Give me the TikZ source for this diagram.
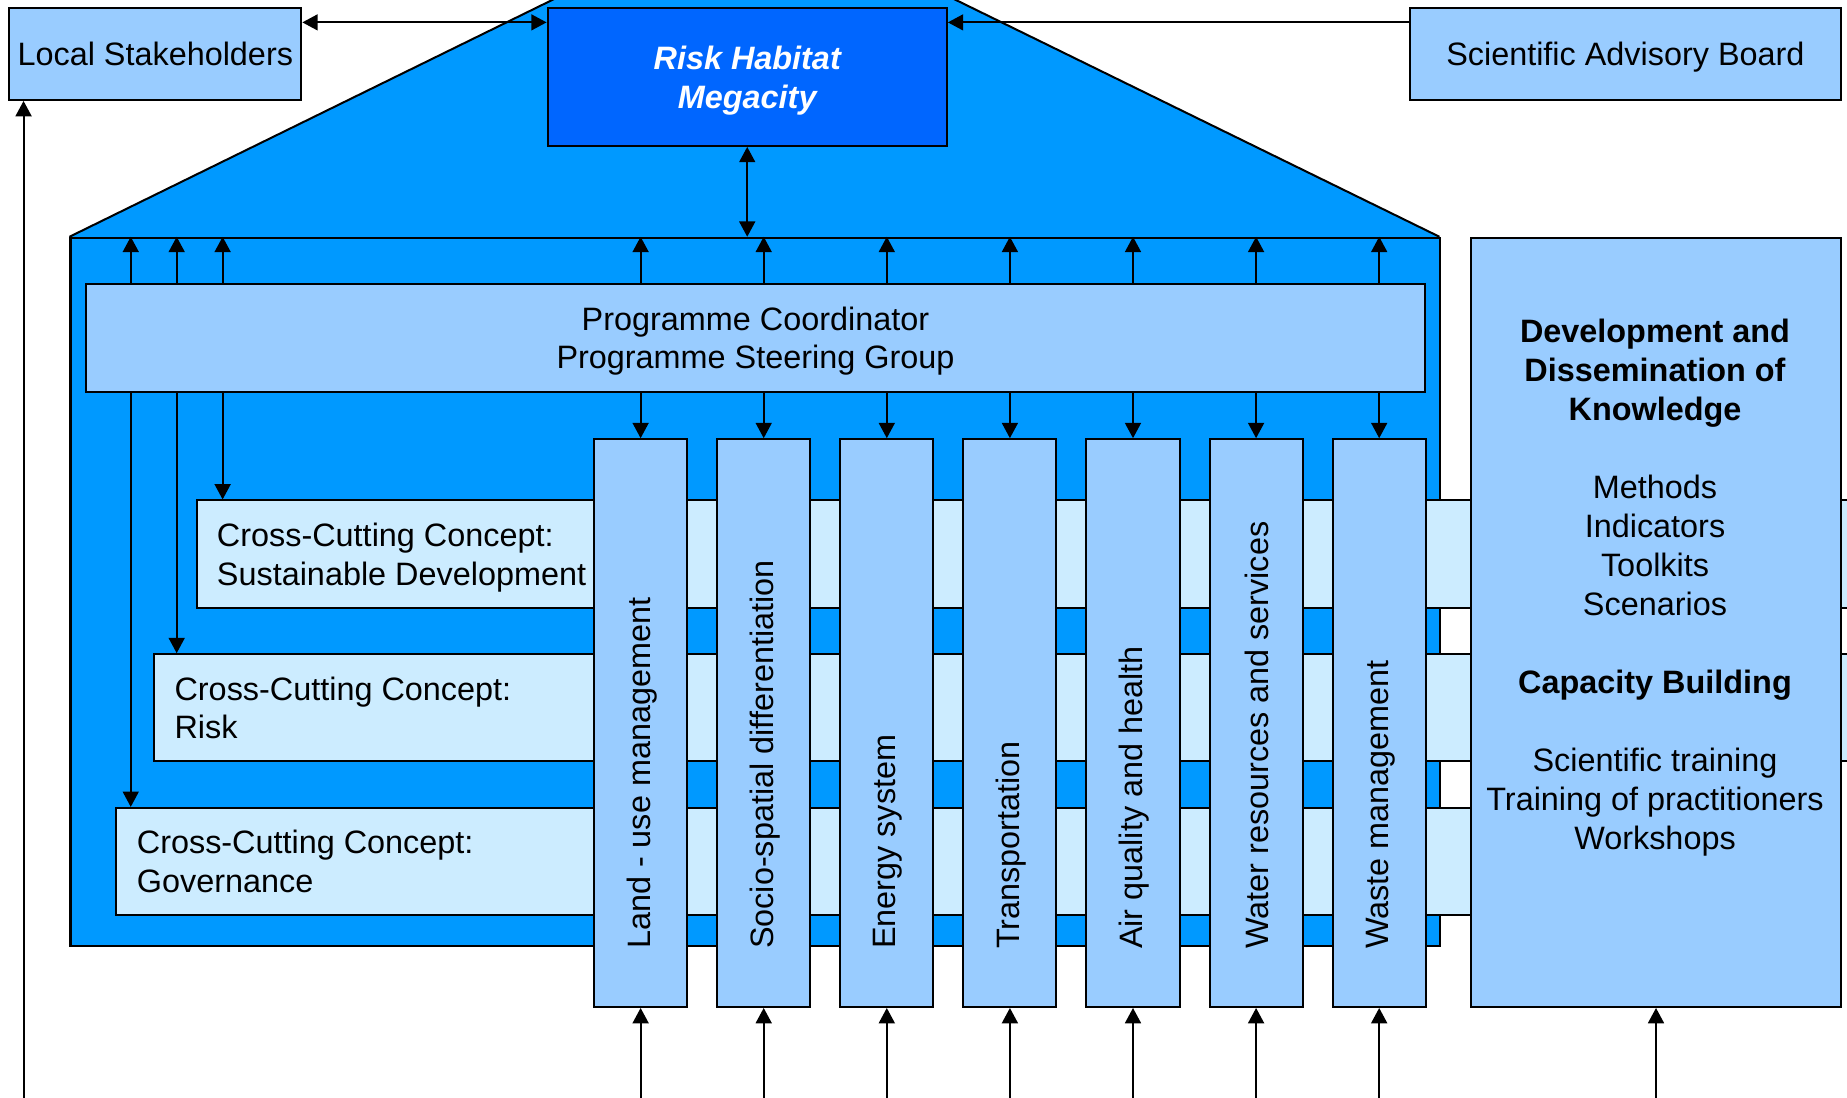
\documentclass[tikz,border=0pt]{standalone}
\usepackage{fontspec}
\setmainfont{Liberation Sans}
\usetikzlibrary{arrows.meta,calc}
\definecolor{roofblue}{HTML}{0099FF}
\definecolor{deepblue}{HTML}{0066FF}
\definecolor{paleblue}{HTML}{99CCFF}
\definecolor{bandblue}{HTML}{CCECFF}
\begin{document}
\begin{tikzpicture}[x=1pt,y=-1pt,
  txt/.style={font=\fontsize{27.5}{32.8}\selectfont},
  box/.style={draw=black, line width=1.7pt, fill=paleblue, rectangle, inner sep=0pt, txt, align=center, text depth=0pt},
  band/.style={draw=black, line width=1.7pt, fill=bandblue, rectangle, anchor=north west, inner sep=0pt, minimum height=91, minimum width=1450},
  bandtext/.style={txt, align=left, anchor=west, inner sep=0pt, text depth=0pt},
  tip/.style={Triangle[length=13pt,width=13.5pt]},
  arr/.style={line width=1.7pt, -{Triangle[length=13pt,width=13.5pt]}},
  dbl/.style={line width=1.7pt, {Triangle[length=13pt,width=13.5pt]}-{Triangle[length=13pt,width=13.5pt]}},
]
\useasboundingbox (0,0) rectangle (1568,932);
\clip (0,0) rectangle (1568,932);

% roof and body
\fill[roofblue] (59,201) -- (640,-84) -- (1222,201) -- cycle;
\draw[line width=1.7pt, line join=miter] (59,201) -- (640,-84) -- (1222,201);
\node[draw=black, line width=1.7pt, fill=roofblue, anchor=north west, minimum width=1163, minimum height=601, inner sep=0pt] (body) at (59,201) {};

% top boxes
\node[box, anchor=north west, minimum width=248, minimum height=78] (ls) at (7,6) {Local Stakeholders};
\node[box, fill=deepblue, text=white, font={\fontsize{27.5}{32.8}\selectfont\bfseries\itshape}, anchor=north west, minimum width=339, minimum height=117] (rh) at (464,6) {Risk Habitat\\Megacity};
\node[box, anchor=north west, minimum width=366, minimum height=78] (sab) at (1196,6) {Scientific Advisory Board};

% programme coordinator
\node[box, anchor=north west, minimum width=1137, minimum height=92] (pc) at (72,240) {Programme Coordinator\\Programme Steering Group};

% cross-cutting bands
\node[band] (sd) at (166,424) {};
\node[bandtext] (sdt) at ($(sd.west)+(18,0)$) {Cross-Cutting Concept:\\Sustainable Development};
\node[band] (risk) at (130,554.5) {};
\node[bandtext] (riskt) at ($(risk.west)+(18,0)$) {Cross-Cutting Concept:\\Risk};
\node[band] (gov) at (98,685) {};
\node[bandtext] (govt) at ($(gov.west)+(18,0)$) {Cross-Cutting Concept:\\Governance};

% columns
\foreach \i/\lab in {0/Land - use management,1/Socio-spatial differentiation,2/Energy system,3/Transportation,4/Air quality and health,5/Water resources and services,6/Waste management}{
  \node[box, anchor=north west, minimum width=79, minimum height=482] (c\i) at (503.5+104.5*\i,372) {};
  \node[txt, rotate=90, anchor=west, inner sep=0pt] (l\i) at ($(c\i.south)+(1,-50)$) {\lab};
}

% right box
\node[box, anchor=north west, minimum width=314, minimum height=653] (dk) at (1248,201) {};
\node[font={\fontsize{27.5}{33.1}\selectfont}, align=center, anchor=north, inner sep=0pt] (dktext) at (1405,271) {\textbf{Development and}\\\textbf{Dissemination of}\\\textbf{Knowledge}\\[33.1pt]Methods\\Indicators\\Toolkits\\Scenarios\\[33.1pt]\textbf{Capacity Building}\\[33.1pt]Scientific training\\Training of practitioners\\Workshops};

% connectors
\draw[dbl] ($(ls.north east)+(0,13)$) -- ($(rh.north west)+(0,13)$);
\draw[arr] ($(sab.north west)+(0,13)$) -- ($(rh.north east)+(0,13)$);
\draw[dbl] (rh.south) -- (rh.south |- body.north);
\coordinate (lsin) at (20,945);
\draw[arr] (lsin) -- (lsin |- ls.south);

\coordinate (k1) at ($(pc.north west)+(39,0)$);
\coordinate (k2) at ($(pc.north west)+(78,0)$);
\coordinate (k3) at ($(pc.north west)+(117,0)$);
\foreach \k in {k1,k2,k3} \draw[arr] (\k) -- (\k |- body.north);
\draw[arr] (k3 |- pc.south) -- (k3 |- sd.north);
\draw[arr] (k2 |- pc.south) -- (k2 |- risk.north);
\draw[arr] (k1 |- pc.south) -- (k1 |- gov.north);

\foreach \i in {0,...,6}{
  \draw[arr] (c\i.north |- pc.north) -- (c\i.north |- body.north);
  \draw[arr] (c\i.north |- pc.south) -- (c\i.north);
  \coordinate (b\i) at (c\i.south |- lsin);
  \draw[arr] (b\i) -- (c\i.south);
}
\coordinate (bdk) at (dk.south |- lsin);
\draw[arr] (bdk) -- (dk.south);
\end{tikzpicture}
\end{document}
